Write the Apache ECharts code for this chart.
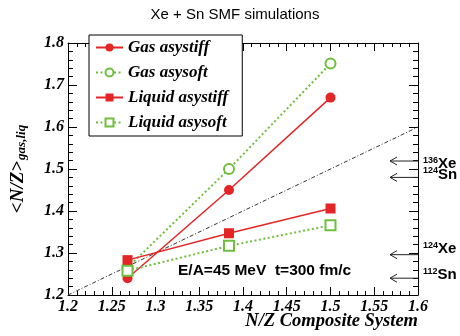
<!DOCTYPE html>
<html>
<head>
<meta charset="utf-8">
<script src="https://cdn.jsdelivr.net/npm/echarts@6/dist/echarts.min.js"></script>
<style>
  html, body { margin: 0; padding: 0; background: #fff; }
  #chart { width: 460px; height: 336px; }
</style>
</head>
<body>
<div id="chart"></div>
<script>
// values
var nzComposite = [1.268, 1.384, 1.5];
var gasAsystiff = [1.240, 1.450, 1.670];
var gasAsysoft = [1.265, 1.500, 1.751];
var liquidAsystiff = [1.283, 1.347, 1.406];
var liquidAsysoft = [1.258, 1.317, 1.366];
var seriesNames = ['Gas asystiff', 'Gas asysoft', 'Liquid asystiff', 'Liquid asysoft'];
var diagonal = [1.2, 1.6];
var isoMass = ['136', '124', '124', '112'];
var isoElem = ['Xe', 'Sn', 'Xe', 'Sn'];
var isoNZ = [1.519, 1.480, 1.296, 1.240];

var RED = '#e42525', GREEN = '#6fbf3f';
var serif = 'Liberation Serif', sans = 'Liberation Sans';

function pts(ys) {
    return nzComposite.map(function (x, i) { return [x, ys[i]]; });
}

var labelShift = [3, -3, -6, -3];   // keep isotope labels from overlapping
var arrowFrom = 1.568;

var my_chart = echarts.init(document.getElementById('chart'));

function frameAxis(pos, min, max, step, major, minor, showLabel, labelMargin) {
    return {
        type: 'value', position: pos, min: min, max: max, interval: step,
        axisLine: {show: true, onZero: false, lineStyle: {color: '#000', width: 1}},
        axisTick: {show: true, inside: true, length: major, lineStyle: {color: '#000'}},
        minorTick: {show: true, splitNumber: 5, length: minor, lineStyle: {color: '#000'}},
        splitLine: {show: false},
        axisLabel: {show: showLabel, margin: labelMargin,
            fontFamily: serif, fontWeight: 'bold', fontStyle: 'italic', fontSize: 16, color: '#000'}
    };
}

var xBottom = frameAxis('bottom', 1.2, 1.6, 0.05, 8, 4, true, 4);
var xTop = frameAxis('top', 1.2, 1.6, 0.05, 8, 4, false, 0);
var yLeft = frameAxis('left', 1.2, 1.8, 0.1, 9, 5, true, 4);
var yRight = frameAxis('right', 1.2, 1.8, 0.1, 9, 5, false, 0);
yLeft.name = '{m|<N/Z>}{s|gas,liq}';
yLeft.nameLocation = 'middle';
yLeft.nameRotate = 90;
yLeft.nameGap = 40;
yLeft.nameTextStyle = {
    rich: {
        m: {fontFamily: serif, fontWeight: 'bold', fontStyle: 'italic', fontSize: 19, color: '#000', lineHeight: 22, verticalAlign: 'bottom'},
        s: {fontFamily: serif, fontWeight: 'bold', fontStyle: 'italic', fontSize: 13, color: '#000', lineHeight: 22, verticalAlign: 'bottom', padding: [14, 0, 0, 1]}
    }
};

var option = {
    animation: false,
    backgroundColor: '#fff',
    title: {
        text: 'Xe + Sn SMF simulations',
        left: 230, top: 2, textAlign: 'center',
        textStyle: {fontFamily: sans, fontWeight: 'normal', fontSize: 15, color: '#000'}
    },
    grid: {left: 68, right: 42, top: 43, bottom: 41, outerBoundsMode: 'none', containLabel: false},
    xAxis: [xBottom, xTop],
    yAxis: [yLeft, yRight],
    legend: {
        orient: 'vertical', left: 89, top: 35,
        data: seriesNames,
        backgroundColor: '#fff', borderColor: '#000', borderWidth: 1, borderRadius: 0,
        padding: [4, 14, 5, 6],
        itemWidth: 27, itemHeight: 10, itemGap: 8,
        textStyle: {fontFamily: serif, fontWeight: 'bold', fontStyle: 'italic', fontSize: 17, color: '#000'}
    },
    graphic: [
        {type: 'text', left: 178, top: 263,
            style: {text: 'E/A=45 MeV  t=300 fm/c', fontFamily: sans, fontWeight: 'bold', fontSize: 15.5, fill: '#000'}},
        {type: 'text', right: 42, top: 312,
            style: {text: 'N/Z Composite System', fontFamily: serif, fontWeight: 'bold', fontStyle: 'italic', fontSize: 18.5, fill: '#000'}}
    ],
    series: [
        {
            name: 'diag', type: 'line', data: [[diagonal[0], diagonal[0]], [diagonal[1], diagonal[1]]],
            symbol: 'none', silent: true,
            lineStyle: {color: '#333', width: 1, type: [4, 2, 1, 2]}
        },
        {
            name: seriesNames[0], type: 'line', data: pts(gasAsystiff),
            symbol: 'circle', symbolSize: 10,
            itemStyle: {color: RED}, lineStyle: {color: RED, width: 1.5}
        },
        {
            name: seriesNames[1], type: 'line', data: pts(gasAsysoft),
            symbol: 'emptyCircle', symbolSize: 10,
            itemStyle: {color: GREEN, borderWidth: 1}, lineStyle: {color: GREEN, width: 2, type: [2, 2.5]}
        },
        {
            name: seriesNames[2], type: 'line', data: pts(liquidAsystiff),
            symbol: 'rect', symbolSize: 10,
            itemStyle: {color: RED}, lineStyle: {color: RED, width: 1.5}
        },
        {
            name: seriesNames[3], type: 'line', data: pts(liquidAsysoft),
            symbol: 'emptyRect', symbolSize: 10,
            itemStyle: {color: GREEN, borderWidth: 1}, lineStyle: {color: GREEN, width: 2, type: [2, 2.5]}
        },
        {
            name: 'isotopes', type: 'custom', clip: false, silent: true,
            data: isoNZ.map(function (v, i) { return [i, v]; }),
            renderItem: function (params, api) {
                var i = api.value(0), v = api.value(1);
                var p0 = api.coord([arrowFrom, v]);
                var p1 = api.coord([1.6, v]);
                var stroke = {stroke: '#222', lineWidth: 1, fill: null};
                return {
                    type: 'group',
                    children: [
                        {type: 'line', shape: {x1: p0[0], y1: p0[1], x2: p1[0], y2: p1[1]}, style: stroke},
                        {type: 'polyline', shape: {points: [[p0[0] + 7, p0[1] - 4], [p0[0], p0[1]], [p0[0] + 7, p0[1] + 4]]}, style: stroke},
                        {type: 'text', x: p1[0] + 5, y: p1[1] + labelShift[i],
                            style: {
                                text: '{a|' + isoMass[i] + '}{b|' + isoElem[i] + '}',
                                verticalAlign: 'middle',
                                rich: {
                                    a: {fontFamily: sans, fontWeight: 'bold', fontSize: 9, fill: '#000', verticalAlign: 'top', lineHeight: 16},
                                    b: {fontFamily: sans, fontWeight: 'bold', fontSize: 15, fill: '#000', lineHeight: 16}
                                }
                            }}
                    ]
                };
            }
        }
    ]
};

my_chart.setOption(option);
</script>
</body>
</html>
